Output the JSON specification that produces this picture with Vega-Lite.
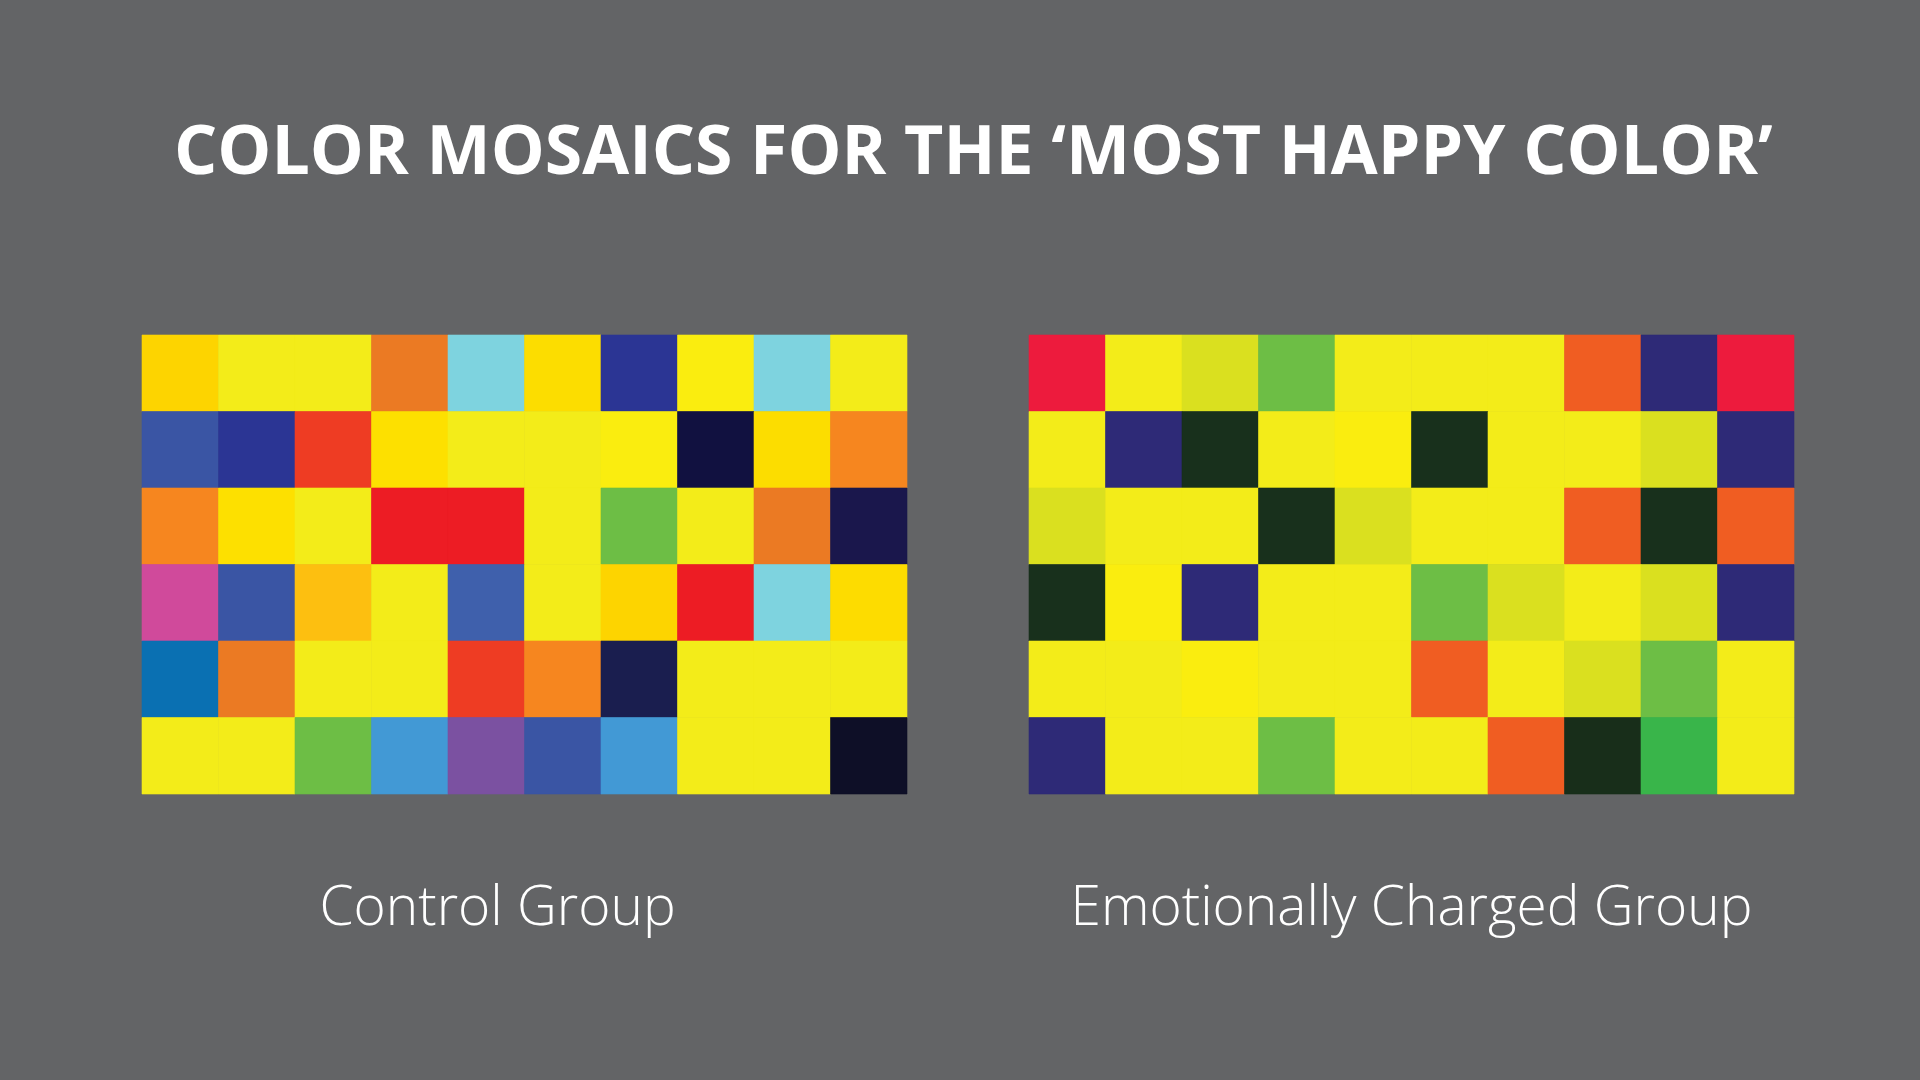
{
  "$schema": "https://vega.github.io/schema/vega-lite/v6.json",
  "background": "#636466",
  "padding": {"left": 141, "right": 126, "top": 119, "bottom": 145},
  "title": {"text": "COLOR MOSAICS FOR THE ‘MOST HAPPY COLOR’", "font": "Open Sans", "fontSize": 68, "fontWeight": 700, "color": "#ffffff", "anchor": "start", "frame": "group", "dx": 32, "offset": 147},
  "datasets": {
    "cells": [
      {"group":"Control Group","r":1,"c":1,"color":"#FDD400"},{"group":"Control Group","r":1,"c":2,"color":"#F3EC19"},{"group":"Control Group","r":1,"c":3,"color":"#F3EC19"},{"group":"Control Group","r":1,"c":4,"color":"#EB7A23"},{"group":"Control Group","r":1,"c":5,"color":"#7ED3DF"},{"group":"Control Group","r":1,"c":6,"color":"#FCDD00"},{"group":"Control Group","r":1,"c":7,"color":"#2B3594"},{"group":"Control Group","r":1,"c":8,"color":"#FAED0F"},{"group":"Control Group","r":1,"c":9,"color":"#7ED3DF"},{"group":"Control Group","r":1,"c":10,"color":"#F3EC19"},
      {"group":"Control Group","r":2,"c":1,"color":"#3A55A4"},{"group":"Control Group","r":2,"c":2,"color":"#2B3594"},{"group":"Control Group","r":2,"c":3,"color":"#EE3C23"},{"group":"Control Group","r":2,"c":4,"color":"#FDE000"},{"group":"Control Group","r":2,"c":5,"color":"#F3EC19"},{"group":"Control Group","r":2,"c":6,"color":"#F3EC19"},{"group":"Control Group","r":2,"c":7,"color":"#FAED0F"},{"group":"Control Group","r":2,"c":8,"color":"#111140"},{"group":"Control Group","r":2,"c":9,"color":"#FCDD00"},{"group":"Control Group","r":2,"c":10,"color":"#F6861F"},
      {"group":"Control Group","r":3,"c":1,"color":"#F6861F"},{"group":"Control Group","r":3,"c":2,"color":"#FDE000"},{"group":"Control Group","r":3,"c":3,"color":"#F3EC19"},{"group":"Control Group","r":3,"c":4,"color":"#ED1C24"},{"group":"Control Group","r":3,"c":5,"color":"#ED1C24"},{"group":"Control Group","r":3,"c":6,"color":"#F3EC19"},{"group":"Control Group","r":3,"c":7,"color":"#6DBE45"},{"group":"Control Group","r":3,"c":8,"color":"#F3EC19"},{"group":"Control Group","r":3,"c":9,"color":"#EB7A23"},{"group":"Control Group","r":3,"c":10,"color":"#1A174C"},
      {"group":"Control Group","r":4,"c":1,"color":"#D04A9B"},{"group":"Control Group","r":4,"c":2,"color":"#3A55A4"},{"group":"Control Group","r":4,"c":3,"color":"#FDBF10"},{"group":"Control Group","r":4,"c":4,"color":"#F3EC19"},{"group":"Control Group","r":4,"c":5,"color":"#3F60AC"},{"group":"Control Group","r":4,"c":6,"color":"#F3EC19"},{"group":"Control Group","r":4,"c":7,"color":"#FDD400"},{"group":"Control Group","r":4,"c":8,"color":"#ED1C24"},{"group":"Control Group","r":4,"c":9,"color":"#7ED3DF"},{"group":"Control Group","r":4,"c":10,"color":"#FDDC00"},
      {"group":"Control Group","r":5,"c":1,"color":"#0A70B2"},{"group":"Control Group","r":5,"c":2,"color":"#EB7A23"},{"group":"Control Group","r":5,"c":3,"color":"#F3EC19"},{"group":"Control Group","r":5,"c":4,"color":"#F3EC19"},{"group":"Control Group","r":5,"c":5,"color":"#EE3C23"},{"group":"Control Group","r":5,"c":6,"color":"#F6861F"},{"group":"Control Group","r":5,"c":7,"color":"#1A1E4F"},{"group":"Control Group","r":5,"c":8,"color":"#F3EC19"},{"group":"Control Group","r":5,"c":9,"color":"#F3EC19"},{"group":"Control Group","r":5,"c":10,"color":"#F3EC19"},
      {"group":"Control Group","r":6,"c":1,"color":"#F3EC19"},{"group":"Control Group","r":6,"c":2,"color":"#F3EC19"},{"group":"Control Group","r":6,"c":3,"color":"#6DBE45"},{"group":"Control Group","r":6,"c":4,"color":"#4299D5"},{"group":"Control Group","r":6,"c":5,"color":"#7B51A1"},{"group":"Control Group","r":6,"c":6,"color":"#3A55A4"},{"group":"Control Group","r":6,"c":7,"color":"#4299D5"},{"group":"Control Group","r":6,"c":8,"color":"#F3EC19"},{"group":"Control Group","r":6,"c":9,"color":"#F3EC19"},{"group":"Control Group","r":6,"c":10,"color":"#0E0F27"},
      {"group":"Emotionally Charged Group","r":1,"c":1,"color":"#ED1B3D"},{"group":"Emotionally Charged Group","r":1,"c":2,"color":"#F3EC19"},{"group":"Emotionally Charged Group","r":1,"c":3,"color":"#DAE01F"},{"group":"Emotionally Charged Group","r":1,"c":4,"color":"#6DBE45"},{"group":"Emotionally Charged Group","r":1,"c":5,"color":"#F3EC19"},{"group":"Emotionally Charged Group","r":1,"c":6,"color":"#F3EC19"},{"group":"Emotionally Charged Group","r":1,"c":7,"color":"#F3EC19"},{"group":"Emotionally Charged Group","r":1,"c":8,"color":"#F05D22"},{"group":"Emotionally Charged Group","r":1,"c":9,"color":"#2E2A77"},{"group":"Emotionally Charged Group","r":1,"c":10,"color":"#ED1B3D"},
      {"group":"Emotionally Charged Group","r":2,"c":1,"color":"#F3EC19"},{"group":"Emotionally Charged Group","r":2,"c":2,"color":"#2E2A77"},{"group":"Emotionally Charged Group","r":2,"c":3,"color":"#18301C"},{"group":"Emotionally Charged Group","r":2,"c":4,"color":"#F3EC19"},{"group":"Emotionally Charged Group","r":2,"c":5,"color":"#FAED0F"},{"group":"Emotionally Charged Group","r":2,"c":6,"color":"#18301C"},{"group":"Emotionally Charged Group","r":2,"c":7,"color":"#F3EC19"},{"group":"Emotionally Charged Group","r":2,"c":8,"color":"#F3EC19"},{"group":"Emotionally Charged Group","r":2,"c":9,"color":"#DAE01F"},{"group":"Emotionally Charged Group","r":2,"c":10,"color":"#2E2A77"},
      {"group":"Emotionally Charged Group","r":3,"c":1,"color":"#DAE01F"},{"group":"Emotionally Charged Group","r":3,"c":2,"color":"#F3EC19"},{"group":"Emotionally Charged Group","r":3,"c":3,"color":"#F3EC19"},{"group":"Emotionally Charged Group","r":3,"c":4,"color":"#18301C"},{"group":"Emotionally Charged Group","r":3,"c":5,"color":"#DAE01F"},{"group":"Emotionally Charged Group","r":3,"c":6,"color":"#F3EC19"},{"group":"Emotionally Charged Group","r":3,"c":7,"color":"#F3EC19"},{"group":"Emotionally Charged Group","r":3,"c":8,"color":"#F05D22"},{"group":"Emotionally Charged Group","r":3,"c":9,"color":"#18301C"},{"group":"Emotionally Charged Group","r":3,"c":10,"color":"#F05D22"},
      {"group":"Emotionally Charged Group","r":4,"c":1,"color":"#18301C"},{"group":"Emotionally Charged Group","r":4,"c":2,"color":"#FAED0F"},{"group":"Emotionally Charged Group","r":4,"c":3,"color":"#2E2A77"},{"group":"Emotionally Charged Group","r":4,"c":4,"color":"#F3EC19"},{"group":"Emotionally Charged Group","r":4,"c":5,"color":"#F3EC19"},{"group":"Emotionally Charged Group","r":4,"c":6,"color":"#6DBE45"},{"group":"Emotionally Charged Group","r":4,"c":7,"color":"#DAE01F"},{"group":"Emotionally Charged Group","r":4,"c":8,"color":"#F3EC19"},{"group":"Emotionally Charged Group","r":4,"c":9,"color":"#DAE01F"},{"group":"Emotionally Charged Group","r":4,"c":10,"color":"#2E2A77"},
      {"group":"Emotionally Charged Group","r":5,"c":1,"color":"#F3EC19"},{"group":"Emotionally Charged Group","r":5,"c":2,"color":"#F3EC19"},{"group":"Emotionally Charged Group","r":5,"c":3,"color":"#FAED0F"},{"group":"Emotionally Charged Group","r":5,"c":4,"color":"#F3EC19"},{"group":"Emotionally Charged Group","r":5,"c":5,"color":"#F3EC19"},{"group":"Emotionally Charged Group","r":5,"c":6,"color":"#F05D22"},{"group":"Emotionally Charged Group","r":5,"c":7,"color":"#F3EC19"},{"group":"Emotionally Charged Group","r":5,"c":8,"color":"#DAE01F"},{"group":"Emotionally Charged Group","r":5,"c":9,"color":"#6DBE45"},{"group":"Emotionally Charged Group","r":5,"c":10,"color":"#F3EC19"},
      {"group":"Emotionally Charged Group","r":6,"c":1,"color":"#2E2A77"},{"group":"Emotionally Charged Group","r":6,"c":2,"color":"#F3EC19"},{"group":"Emotionally Charged Group","r":6,"c":3,"color":"#F3EC19"},{"group":"Emotionally Charged Group","r":6,"c":4,"color":"#6DBE45"},{"group":"Emotionally Charged Group","r":6,"c":5,"color":"#F3EC19"},{"group":"Emotionally Charged Group","r":6,"c":6,"color":"#F3EC19"},{"group":"Emotionally Charged Group","r":6,"c":7,"color":"#F05D22"},{"group":"Emotionally Charged Group","r":6,"c":8,"color":"#182E1A"},{"group":"Emotionally Charged Group","r":6,"c":9,"color":"#39B54A"},{"group":"Emotionally Charged Group","r":6,"c":10,"color":"#F3EC19"}
    ]
  },
  "data": {"name": "cells"},
  "spacing": 120,
  "hconcat": [
    {
      "width": 765,
      "height": 459,
      "title": {"text": "Control Group", "orient": "bottom", "anchor": "middle", "font": "Open Sans", "fontSize": 55, "fontWeight": 300, "color": "#ffffff", "baseline": "alphabetic", "offset": 131, "dx": -27},
      "transform": [{"filter": "datum.group == 'Control Group'"}],
      "mark": {"type": "rect", "strokeWidth": 0.6},
      "encoding": {
        "x": {"field": "c", "type": "ordinal", "axis": null, "scale": {"paddingInner": 0, "paddingOuter": 0}},
        "y": {"field": "r", "type": "ordinal", "axis": null, "scale": {"paddingInner": 0, "paddingOuter": 0}},
        "fill": {"field": "color", "type": "nominal", "scale": null},
        "stroke": {"field": "color", "type": "nominal", "scale": null}
      }
    },
    {
      "width": 765,
      "height": 459,
      "title": {"text": "Emotionally Charged Group", "orient": "bottom", "anchor": "middle", "font": "Open Sans", "fontSize": 55, "fontWeight": 300, "color": "#ffffff", "baseline": "alphabetic", "offset": 131},
      "transform": [{"filter": "datum.group == 'Emotionally Charged Group'"}],
      "mark": {"type": "rect", "strokeWidth": 0.6},
      "encoding": {
        "x": {"field": "c", "type": "ordinal", "axis": null, "scale": {"paddingInner": 0, "paddingOuter": 0}},
        "y": {"field": "r", "type": "ordinal", "axis": null, "scale": {"paddingInner": 0, "paddingOuter": 0}},
        "fill": {"field": "color", "type": "nominal", "scale": null},
        "stroke": {"field": "color", "type": "nominal", "scale": null}
      }
    }
  ],
  "config": {"view": {"stroke": null}}
}
